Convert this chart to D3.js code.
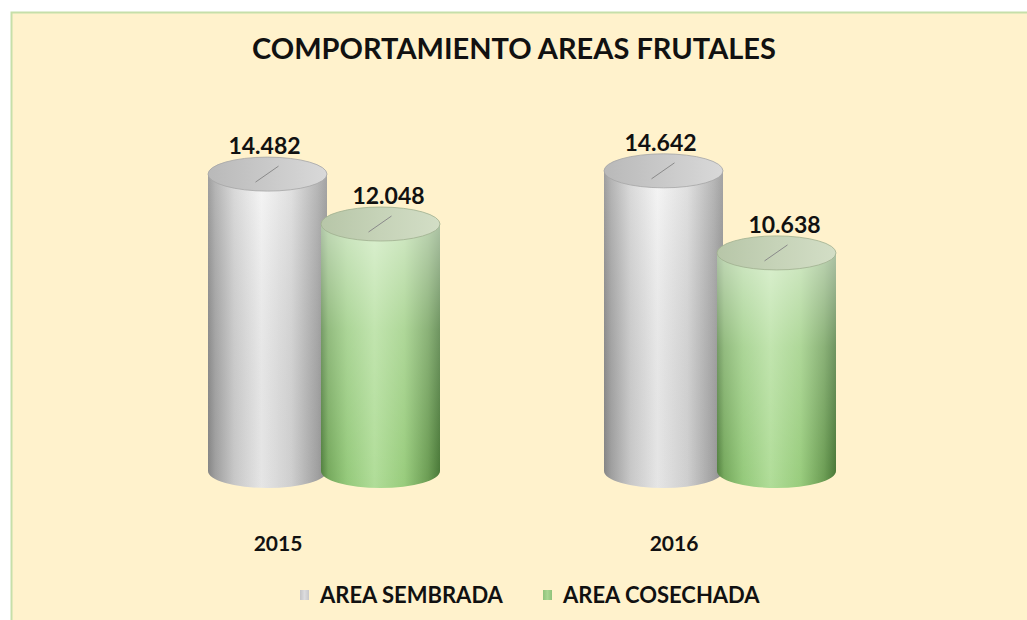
<!DOCTYPE html>
<html>
<head>
<meta charset="utf-8">
<script src="https://cdn.jsdelivr.net/npm/d3@7"></script>
<style>
  html, body { margin: 0; padding: 0; background: #fff; }
  svg { display: block; font-family: Lato, "Open Sans", sans-serif; }
</style>
</head>
<body>
<div id="chart"></div>
<script>
// data
const years = ["2015", "2016"]
const series = ["AREA SEMBRADA", "AREA COSECHADA"]
const sembrada = [14482, 14642]
const cosechada = [12048, 10638]
const valueLabels = [["14.482", "12.048"], ["14.642", "10.638"]]

const W = 1027, H = 620

const svg = d3.select("#chart").append("svg")
  .attr("width", W).attr("height", H)

// chart area background + green border (right/bottom run off the image)
svg.append("rect")
  .attr("x", 11.5).attr("y", 12.5).attr("width", W + 20).attr("height", H + 20)
  .attr("fill", "#fff2cc").attr("stroke", "#c6dfa9").attr("stroke-width", 2)

svg.append("text")
  .attr("x", 514).attr("y", 59)
  .attr("text-anchor", "middle")
  .style("font-size", "29px").style("font-weight", "700").style("fill", "#111")
  .text("COMPORTAMIENTO  AREAS FRUTALES")

// gradients
const defs = svg.append("defs")
function hGrad(id, stops) {
  const g = defs.append("linearGradient").attr("id", id)
    .attr("x1", "0%").attr("x2", "100%").attr("y1", "0%").attr("y2", "0%")
  stops.forEach(s => g.append("stop").attr("offset", s[0]).attr("stop-color", s[1]))
}
function vGrad(id, stops) {
  const g = defs.append("linearGradient").attr("id", id)
    .attr("x1", "0%").attr("x2", "0%").attr("y1", "0%").attr("y2", "100%")
  stops.forEach(s => g.append("stop").attr("offset", s[0]).attr("stop-color", s[1]).attr("stop-opacity", s[2]))
}
hGrad("gray-body", [["0%", "#8e8e8e"], ["6%", "#a9a9a9"], ["22%", "#d4d4d4"], ["45%", "#f4f4f4"], ["70%", "#dcdcdc"], ["92%", "#ababab"], ["100%", "#949494"]])
hGrad("green-body", [["0%", "#4f7e3c"], ["6%", "#74a85b"], ["22%", "#94c97a"], ["45%", "#b0dd98"], ["70%", "#98cc7c"], ["90%", "#6a9c52"], ["100%", "#467634"]])
vGrad("green-fade", [["0%", "#ffffff", 0.55], ["40%", "#ffffff", 0.22], ["100%", "#ffffff", 0]])
vGrad("gray-fade", [["0%", "#ffffff", 0.15], ["100%", "#000000", 0.06]])
hGrad("gray-top", [["0%", "#b9b9b9"], ["50%", "#c9c9c9"], ["100%", "#d9d9d9"]])
hGrad("green-top", [["0%", "#b7c6a8"], ["50%", "#c6d3b8"], ["100%", "#d3dec6"]])
hGrad("gray-key", [["0%", "#c4c4c6"], ["50%", "#dcdcde"], ["100%", "#c8c8ca"]])
hGrad("green-key", [["0%", "#8fc27a"], ["50%", "#a9d692"], ["100%", "#8fc27a"]])

const styles = [
  { body: "gray-body", fade: "gray-fade", top: "gray-top", key: "gray-key", edge: "#a6a6a6" },
  { body: "green-body", fade: "green-fade", top: "green-top", key: "green-key", edge: "#9fb08f" }
]

// scales
const x0 = d3.scaleBand().domain(years).range([126, 918])
const x1 = d3.scalePoint().domain(series).range([-56.5, 56.5])
const y = d3.scaleLinear().domain([0, 16000]).range([471, 143])

const rx = 59.5, ry = 17

const rows = []
years.forEach((yr, i) => {
  rows.push({ year: yr, s: 0, value: sembrada[i], label: valueLabels[i][0] })
  rows.push({ year: yr, s: 1, value: cosechada[i], label: valueLabels[i][1] })
})

function bodyPath(cx, top, bot) {
  return `M${cx - rx},${top} L${cx - rx},${bot} A${rx},${ry} 0 0 0 ${cx + rx},${bot} L${cx + rx},${top} Z`
}

const g = svg.append("g")
rows.forEach(d => {
  const cx = x0(d.year) + x0.bandwidth() / 2 + x1(series[d.s])
  const top = y(d.value), bot = y(0)
  const st = styles[d.s]

  g.append("path").attr("d", bodyPath(cx, top, bot)).attr("fill", `url(#${st.body})`)
  g.append("path").attr("d", bodyPath(cx, top, bot)).attr("fill", `url(#${st.fade})`)

  // top cap
  g.append("ellipse")
    .attr("cx", cx).attr("cy", top).attr("rx", rx).attr("ry", ry)
    .attr("fill", `url(#${st.top})`).attr("stroke", st.edge).attr("stroke-width", 0.8)

  // small leader line on the cap
  g.append("line")
    .attr("x1", cx - 12).attr("y1", top + 8)
    .attr("x2", cx + 11).attr("y2", top - 8)
    .attr("stroke", "#8a8a8a").attr("stroke-width", 1)

  g.append("text")
    .attr("x", cx + (d.s === 0 ? -3 : 8)).attr("y", top - 20)
    .attr("text-anchor", "middle")
    .style("font-size", "23px").style("font-weight", "700").style("fill", "#111")
    .text(d.label)
})

// category labels
svg.selectAll(".year")
  .data(years)
  .join("text")
  .attr("class", "year")
  .attr("x", d => x0(d) + x0.bandwidth() / 2 - 46)
  .attr("y", 551)
  .attr("text-anchor", "middle")
  .style("font-size", "21px").style("font-weight", "700").style("fill", "#111")
  .text(d => d)

// legend
const legendX = [300, 543]
series.forEach((s, i) => {
  svg.append("rect")
    .attr("x", legendX[i]).attr("y", 590).attr("width", 9).attr("height", 10)
    .attr("fill", `url(#${styles[i].key})`)
  svg.append("text")
    .attr("x", legendX[i] + 20).attr("y", 603)
    .style("font-size", "22px").style("font-weight", "700").style("fill", "#111")
    .text(s)
})
</script>
</body>
</html>
